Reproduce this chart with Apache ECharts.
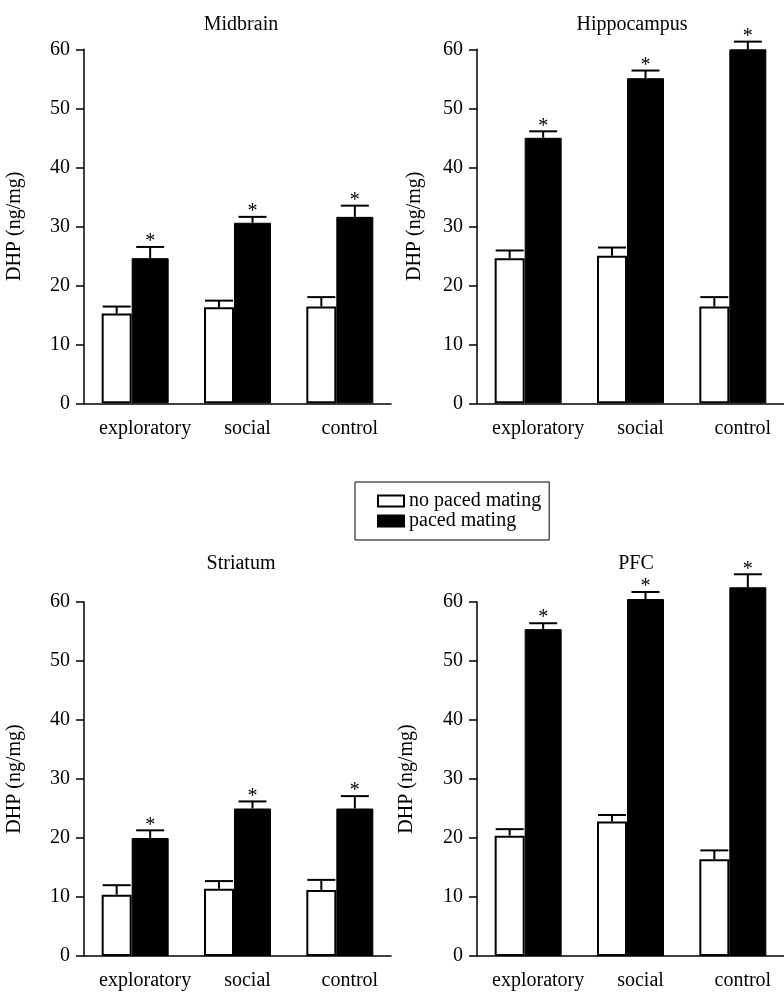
<!DOCTYPE html>
<html><head><meta charset="utf-8">
<script src="https://cdn.jsdelivr.net/npm/echarts@6/dist/echarts.min.js"></script>
<style>html,body{margin:0;padding:0;background:#fff}#c{width:784px;height:1000px}</style>
</head><body><div id="c"></div>
<script>
// ---- data ----
const categories = ['exploratory', 'social', 'control'];
const panelTitles = ['Midbrain', 'Hippocampus', 'Striatum', 'PFC'];
const seriesNames = ['no paced mating', 'paced mating'];
const yAxisName = 'DHP (ng/mg)';
const yMin = 0, yMax = 60, yInterval = 10;

const midbrainNoPaced = [15.2, 16.3, 16.4];
const midbrainNoPacedErr = [1.2, 1.1, 1.6];
const midbrainPaced = [24.6, 30.6, 31.6];
const midbrainPacedErr = [1.9, 1.0, 1.9];

const hippocampusNoPaced = [24.6, 25.0, 16.4];
const hippocampusNoPacedErr = [1.3, 1.4, 1.6];
const hippocampusPaced = [45.0, 55.1, 60.0];
const hippocampusPacedErr = [1.1, 1.3, 1.3];

const striatumNoPaced = [10.4, 11.4, 11.2];
const striatumNoPacedErr = [1.6, 1.3, 1.7];
const striatumPaced = [20.0, 25.0, 25.0];
const striatumPacedErr = [1.3, 1.2, 2.1];

const pfcNoPaced = [20.4, 22.8, 16.4];
const pfcNoPacedErr = [1.1, 1.1, 1.5];
const pfcPaced = [55.4, 60.5, 62.5];
const pfcPacedErr = [1.0, 1.2, 2.2];

const significanceMark = '*';

// ---- layout / style ----
const FONT = '"Liberation Serif", "Times New Roman", serif';
const WHITE_W = 30, BLACK_W = 37;
const grids = [
  { left: 84, top: 49.3, width: 307, height: 354 },
  { left: 477, top: 49.3, width: 307, height: 354 },
  { left: 84, top: 602, width: 307, height: 354 },
  { left: 477, top: 602, width: 307, height: 354 }
];
const titlePos = [[236, 10], [627, 10], [236, 549], [631, 549]];
const nameGaps = [59, 52, 59, 60];

const panels = [
  [midbrainNoPaced, midbrainNoPacedErr, midbrainPaced, midbrainPacedErr],
  [hippocampusNoPaced, hippocampusNoPacedErr, hippocampusPaced, hippocampusPacedErr],
  [striatumNoPaced, striatumNoPacedErr, striatumPaced, striatumPacedErr],
  [pfcNoPaced, pfcNoPacedErr, pfcPaced, pfcPacedErr]
];

const totalW = WHITE_W + BLACK_W;
const whiteOffset = -totalW / 2 + WHITE_W / 2;
const blackOffset = -totalW / 2 + WHITE_W + BLACK_W / 2;

function errSeries(g, vals, errs, offset, star) {
  return {
    type: 'custom', name: 'err' + g + '_' + offset, xAxisIndex: g, yAxisIndex: g,
    clip: false, silent: true, z: 5,
    data: vals.map((v, i) => [i, v, errs[i]]),
    encode: { x: 0, y: 1 },
    renderItem: function (params, api) {
      const i = api.value(0), v = api.value(1), e = api.value(2);
      const b = api.coord([i, v]);
      const t = api.coord([i, v + e]);
      const x = b[0] + offset;
      const ls = { stroke: '#000', lineWidth: 2 };
      const children = [
        { type: 'line', shape: { x1: x, y1: b[1], x2: x, y2: t[1] }, style: ls },
        { type: 'line', shape: { x1: x - 14, y1: t[1], x2: x + 14, y2: t[1] }, style: ls }
      ];
      if (star) {
        children.push({ type: 'text', style: { text: star, x: x, y: t[1] - 5, align: 'center', verticalAlign: 'middle', font: '20px ' + FONT, fill: '#000' } });
      }
      return { type: 'group', children: children };
    }
  };
}

const option = {
  animation: false,
  backgroundColor: '#fff',
  title: panelTitles.map((t, i) => ({
    text: t, left: titlePos[i][0], top: titlePos[i][1], textAlign: 'center',
    textStyle: { fontFamily: FONT, fontSize: 20, fontWeight: 'normal', color: '#000' }
  })),
  legend: {
    left: 355, top: 482, orient: 'vertical',
    itemWidth: 26, itemHeight: 11, itemGap: 0,
    padding: [9, 8, 9, 22],
    borderColor: '#000', borderWidth: 1,
    textStyle: { fontFamily: FONT, fontSize: 20, color: '#000' },
    data: seriesNames.map(n => ({ name: n, icon: 'rect' }))
  },
  grid: grids,
  xAxis: grids.map((g, i) => ({
    type: 'category', gridIndex: i, data: categories,
    axisLine: { lineStyle: { color: '#000', width: 1.5 } },
    axisTick: { show: false },
    axisLabel: { interval: 0, hideOverlap: false, fontFamily: FONT, fontSize: 20, color: '#000', margin: 15, padding: [0, 0, 0, 20] }
  })),
  yAxis: grids.map((g, i) => ({
    type: 'value', gridIndex: i, min: yMin, max: yMax, interval: yInterval,
    name: yAxisName, nameLocation: 'middle', nameGap: nameGaps[i],
    nameTextStyle: { fontFamily: FONT, fontSize: 20, color: '#000' },
    splitLine: { show: false },
    axisLine: { show: true, lineStyle: { color: '#000', width: 1.5 } },
    axisTick: { show: true, length: 8, lineStyle: { color: '#000', width: 1.5 } },
    axisLabel: { fontFamily: FONT, fontSize: 20, color: '#000', margin: 14 }
  })),
  series: []
};

panels.forEach((p, g) => {
  option.series.push({
    type: 'bar', name: seriesNames[0], xAxisIndex: g, yAxisIndex: g, data: p[0],
    barWidth: WHITE_W, barGap: '0%', clip: false,
    itemStyle: { color: '#fff', borderColor: '#000', borderWidth: 2 }
  });
  option.series.push({
    type: 'bar', name: seriesNames[1], xAxisIndex: g, yAxisIndex: g, data: p[2],
    barWidth: BLACK_W, barGap: '0%', clip: false,
    itemStyle: { color: '#000', borderColor: '#000', borderWidth: 1 }
  });
});
panels.forEach((p, g) => {
  option.series.push(errSeries(g, p[0], p[1], whiteOffset, null));
  option.series.push(errSeries(g, p[2], p[3], blackOffset, significanceMark));
});

const chart = echarts.init(document.getElementById('c'), null, { renderer: 'canvas' });
chart.setOption(option);
</script>
</body></html>
